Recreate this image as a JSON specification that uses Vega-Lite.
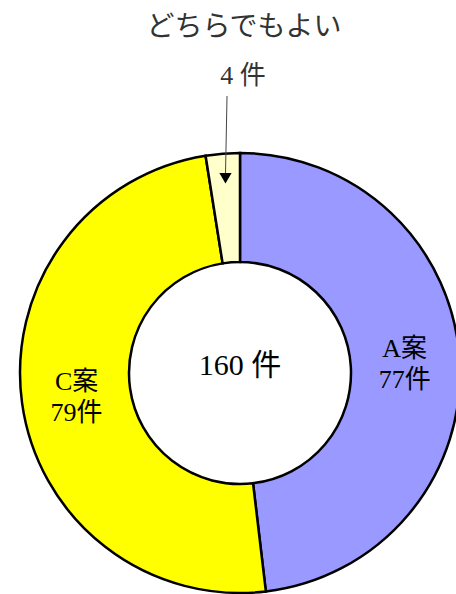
{
  "$schema": "https://vega.github.io/schema/vega-lite/v6.json",
  "width": 480,
  "height": 746,
  "autosize": "none",
  "padding": 0,
  "background": "white",
  "config": {"view": {"stroke": null}, "text": {"font": "Liberation Serif, Noto Sans CJK JP"}},
  "datasets": {
    "slices": [
      {"name": "A案", "count": 77, "label": "A案\n77件"},
      {"name": "C案", "count": 79, "label": "C案\n79件"},
      {"name": "どちらでもよい", "count": 4, "label": ""}
    ],
    "notes": [
      {"kind": "title", "text": "どちらでもよい", "x": 0.018, "y": 1.568},
      {"kind": "count", "text": "4 件", "x": 0.014, "y": 1.35},
      {"kind": "total", "text": "160 件", "x": 0.0, "y": 0.03}
    ],
    "arrow": [
      {"x": -0.059, "y": 1.259, "x2": -0.066, "y2": 0.9}
    ],
    "head": [
      {"x": -0.066, "y": 0.885}
    ]
  },
  "layer": [
    {
      "data": {"name": "slices"},
      "mark": {"type": "arc", "outerRadius": 220, "innerRadius": 111, "stroke": "black", "strokeWidth": 2.5},
      "encoding": {
        "theta": {"field": "count", "type": "quantitative", "stack": true},
        "color": {"field": "name", "type": "nominal", "legend": null,
          "scale": {"domain": ["A案", "C案", "どちらでもよい"], "range": ["#9999FF", "#FFFF00", "#FFFFCC"]}},
        "order": {"field": "name", "sort": "ascending"}
      }
    },
    {
      "data": {"name": "slices"},
      "mark": {"type": "text", "radius": 165, "fontSize": 26, "lineBreak": "\n", "lineHeight": 31, "dy": -14, "color": "black"},
      "encoding": {
        "theta": {"field": "count", "type": "quantitative", "stack": true},
        "order": {"field": "name", "sort": "ascending"},
        "text": {"field": "label"}
      }
    },
    {
      "data": {"name": "notes"},
      "transform": [{"filter": "datum.kind == 'title'"}],
      "mark": {"type": "text", "fontSize": 28, "color": "#333333"},
      "encoding": {
        "x": {"field": "x", "type": "quantitative", "axis": null, "scale": {"domain": [-1.0909, 1.0909], "zero": false, "nice": false}},
        "y": {"field": "y", "type": "quantitative", "axis": null, "scale": {"domain": [-1.6955, 1.6955], "zero": false, "nice": false}},
        "text": {"field": "text"}
      }
    },
    {
      "data": {"name": "notes"},
      "transform": [{"filter": "datum.kind == 'count'"}],
      "mark": {"type": "text", "fontSize": 26, "color": "#333333"},
      "encoding": {
        "x": {"field": "x", "type": "quantitative", "axis": null, "scale": {"domain": [-1.0909, 1.0909], "zero": false, "nice": false}},
        "y": {"field": "y", "type": "quantitative", "axis": null, "scale": {"domain": [-1.6955, 1.6955], "zero": false, "nice": false}},
        "text": {"field": "text"}
      }
    },
    {
      "data": {"name": "notes"},
      "transform": [{"filter": "datum.kind == 'total'"}],
      "mark": {"type": "text", "fontSize": 30, "color": "black"},
      "encoding": {
        "x": {"field": "x", "type": "quantitative", "axis": null, "scale": {"domain": [-1.0909, 1.0909], "zero": false, "nice": false}},
        "y": {"field": "y", "type": "quantitative", "axis": null, "scale": {"domain": [-1.6955, 1.6955], "zero": false, "nice": false}},
        "text": {"field": "text"}
      }
    },
    {
      "data": {"name": "arrow"},
      "mark": {"type": "rule", "color": "#444444", "strokeWidth": 1},
      "encoding": {
        "x": {"field": "x", "type": "quantitative", "axis": null, "scale": {"domain": [-1.0909, 1.0909], "zero": false, "nice": false}},
        "y": {"field": "y", "type": "quantitative", "axis": null, "scale": {"domain": [-1.6955, 1.6955], "zero": false, "nice": false}},
        "x2": {"field": "x2"},
        "y2": {"field": "y2"}
      }
    },
    {
      "data": {"name": "head"},
      "mark": {"type": "point", "shape": "triangle-down", "filled": true, "color": "black", "opacity": 1, "size": 150},
      "encoding": {
        "x": {"field": "x", "type": "quantitative", "axis": null, "scale": {"domain": [-1.0909, 1.0909], "zero": false, "nice": false}},
        "y": {"field": "y", "type": "quantitative", "axis": null, "scale": {"domain": [-1.6955, 1.6955], "zero": false, "nice": false}}
      }
    }
  ]
}
